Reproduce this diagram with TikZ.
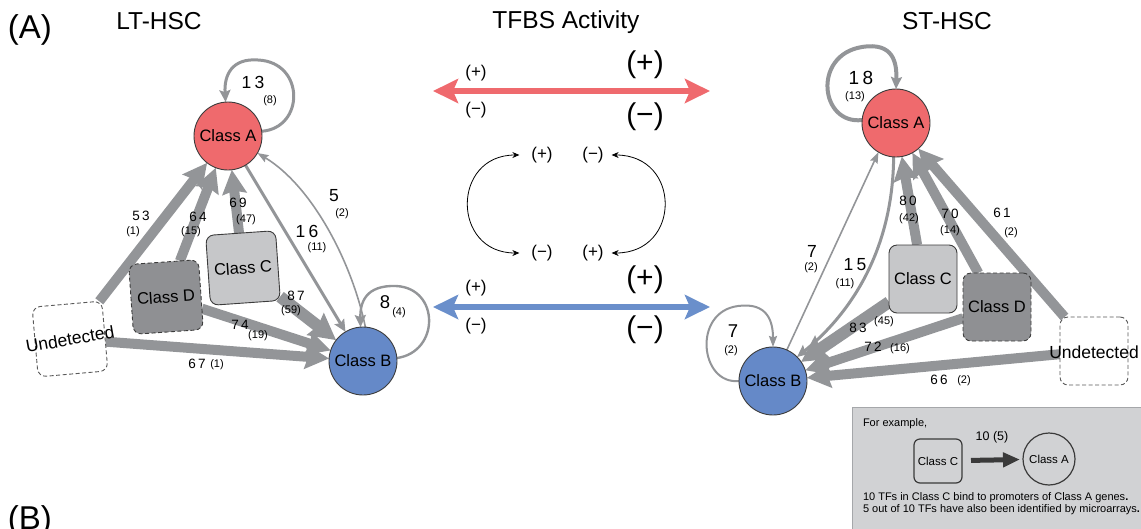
\documentclass[tikz,border=0pt]{standalone}
\usepackage{fontspec}
\setmainfont{Liberation Sans}
\usetikzlibrary{arrows.meta,backgrounds}

\definecolor{clsA}{HTML}{EF6A6D}
\definecolor{clsB}{HTML}{6589C8}
\definecolor{clsC}{HTML}{C6C7C9}
\definecolor{clsD}{HTML}{8F9093}
\definecolor{edgegray}{HTML}{939598}
\definecolor{boxline}{HTML}{3C3C3C}
\definecolor{legendfill}{HTML}{D1D2D4}
\definecolor{legendline}{HTML}{A5A7AA}
\definecolor{actred}{HTML}{EF6A6E}
\definecolor{actblue}{HTML}{6A8FCB}
\definecolor{darkarrow}{HTML}{3A3A3A}

\newcommand\setsz[1]{\fontsize{#1}{#1}\selectfont}
\newcommand\spaced[1]{{\addfontfeatures{LetterSpace=18}#1}}

\begin{document}
\begin{tikzpicture}[x=1pt, y=-1pt,
  every node/.style={inner sep=0pt, outer sep=0pt},
  circ/.style={circle, draw=boxline, line width=0.9pt, minimum size=68pt, font=\setsz{16.5}},
  sqbox/.style={rectangle, rounded corners=8pt, draw=boxline, line width=0.9pt,
    minimum width=70pt, minimum height=70pt, font=\setsz{16.5}},
  undbox/.style={rectangle, rounded corners=8pt, draw=boxline!85, line width=0.9pt,
    dash pattern=on 4pt off 2.5pt, fill=white, minimum width=70pt, minimum height=70pt},
  dashbox/.style={dash pattern=on 4pt off 2.5pt},
  undtxt/.style={font=\setsz{17.5}},
  edgeheavy/.style={draw=edgegray, line width=10pt, -{Stealth[length=24pt,width=24pt,inset=3pt]}},
  edgexl/.style={draw=edgegray, line width=12pt, -{Stealth[length=26pt,width=27pt,inset=3pt]}},
  edgemid/.style={draw=edgegray, line width=3pt, -{Stealth[length=12pt,width=11pt,inset=2pt]}},
  edgelight/.style={draw=edgegray, line width=1.6pt, -{Stealth[length=11pt,width=8pt,inset=1.5pt]}},
  num/.style={font=\setsz{13.5}},
  sub/.style={font=\setsz{11}},
  big/.style={font=\setsz{17.5}},
  title/.style={font=\setsz{24.5}, anchor=base},
  panel/.style={font=\setsz{33}, anchor=base west},
  signsm/.style={font=\setsz{17}},
  signbig/.style={font=\setsz{30}},
  actarrow/.style={line width=5.5pt, {Stealth[length=25pt,width=24pt,inset=5pt]}-{Stealth[length=25pt,width=24pt,inset=5pt]}},
  loopflip/.style={draw=black, line width=0.8pt, {Stealth[length=7pt,width=6pt]}-{Stealth[length=7pt,width=6pt]}},
  legtxt/.style={font=\setsz{11}, anchor=base west},
]
\useasboundingbox (0,0) rectangle (1141,528);

% ---------- headings ----------
\node[panel] (pA) at (8,38) {(A)};
\node[panel] (pB) at (8,529) {(B)};
\node[title] (tLT) at (159,29) {LT-HSC};
\node[title] (tTF) at (566,28) {TFBS Activity};
\node[title] (tST) at (947,29) {ST-HSC};

% ---------- LT-HSC network ----------
\node[circ, fill=clsA] (lA) at (228,136) {Class A};
\node[circ, fill=clsB] (lB) at (363,361) {Class B};
\node[sqbox, fill=clsC, rotate=4] (lC) at (243,268) {Class C};
\node[sqbox, fill=clsD, dashbox, rotate=4] (lD) at (166,297) {Class D};
\node[undbox, rotate=5] (lU) at (70,339) {};
\node[undtxt, rotate=10] (lUt) at (lU) {Undetected};

\begin{scope}[on background layer]
  \draw[edgeheavy] (lU) -- (lA);
  \draw[edgeheavy] (lD) -- (lA);
  \draw[edgeheavy] (lC) -- (lA);
  \draw[edgemid] (lA) -- (lB);
  \draw[edgelight] (lB.86) .. controls (352,262) and (312,186) .. (lA.-30);
  \draw[edgexl] (lC) -- (lB);
  \draw[edgeheavy] (lD) -- (lB);
  \draw[edgeheavy] (lU) -- (lB);
  \draw[edgemid] (lA.8) .. controls (305,128) and (305,62) .. (258,60)
                 .. controls (232,58) and (224,75) .. (lA.94);
  \draw[edgemid, line width=2.4pt] (lB.5) .. controls (440,352) and (440,288) .. (396,286)
                 .. controls (366,285) and (360,302) .. (lB.94);
\end{scope}

\node[big] (n13) at (253,82) {\spaced{13}};
\node[sub] (s13) at (270,101) {(8)};
\node[num] (n53) at (141,216) {\spaced{53}};
\node[sub] (s53) at (133,232) {(1)};
\node[num] (n64) at (198,217) {\spaced{64}};
\node[sub] (s64) at (191,232) {(15)};
\node[num] (n69) at (238,203) {\spaced{69}};
\node[sub] (s69) at (246,220) {(47)};
\node[big] (n16) at (307,231) {\spaced{16}};
\node[sub] (s16) at (317,248) {(11)};
\node[big] (n5) at (334,196) {5};
\node[sub] (s5) at (342,214) {(2)};
\node[big, font=\setsz{18.5}] (n8) at (385,302) {8};
\node[sub] (s8) at (399,313) {(4)};
\node[num] (n87) at (296,296) {\spaced{87}};
\node[sub] (s87) at (291,311) {(59)};
\node[num] (n74) at (240,325) {\spaced{74}};
\node[sub] (s74) at (258,336) {(19)};
\node[num] (n67) at (197,364) {\spaced{67}};
\node[sub] (s67) at (217,365) {(1)};

% ---------- ST-HSC network ----------
\node[circ, fill=clsA] (rA) at (896,123) {Class A};
\node[circ, fill=clsB] (rB) at (773,381) {Class B};
\node[sqbox, fill=clsC, minimum width=68pt, minimum height=68pt] (rC) at (923,279) {Class C};
\node[sqbox, fill=clsD, dashbox, minimum width=68pt, minimum height=68pt] (rD) at (997,307) {Class D};
\node[undbox, minimum width=68pt, minimum height=68pt] (rU) at (1094,351) {};
\node[undtxt] (rUt) at (1094,352) {Undetected};

\begin{scope}[on background layer]
  \draw[edgeheavy] (rC) -- (rA);
  \draw[edgeheavy] (rD) -- (rA);
  \draw[edgeheavy] (rU) -- (rA);
  \draw[edgexl] (rC) -- (rB);
  \draw[edgeheavy] (rD) -- (rB);
  \draw[edgeheavy] (rU) -- (rB);
  \draw[edgelight] (rB.66) -- (rA.239);
  \draw[edgemid] (rA.266) .. controls (893,245) and (855,310) .. (rB.45);
  \draw[edgemid, line width=4pt] (rA.175) .. controls (820,125) and (812,55) .. (862,47)
                 .. controls (893,42) and (897,62) .. (rA.90);
  \draw[edgelight, line width=2pt] (rB.180) .. controls (700,385) and (692,312) .. (738,306)
                 .. controls (768,302) and (773,322) .. (rB.90);
\end{scope}

\node[big, font=\setsz{19}] (n18) at (861,78) {\spaced{18}};
\node[sub] (s18) at (855,97) {(13)};
\node[big] (n7a) at (812,251) {7};
\node[sub] (s7a) at (811,268) {(2)};
\node[big] (n15) at (855,265) {\spaced{15}};
\node[sub] (s15) at (845,284) {(11)};
\node[num] (n80) at (908,201) {\spaced{80}};
\node[sub] (s80) at (909,219) {(42)};
\node[num] (n70) at (950,214) {\spaced{70}};
\node[sub] (s70) at (950,231) {(14)};
\node[num] (n61) at (1002,213) {\spaced{61}};
\node[sub] (s61) at (1011,233) {(2)};
\node[big, font=\setsz{18.5}] (n7b) at (733,331) {7};
\node[sub] (s7b) at (731,351) {(2)};
\node[num] (n83) at (858,328) {\spaced{83}};
\node[sub] (s83) at (884,322) {(45)};
\node[num] (n72) at (873,347) {\spaced{72}};
\node[sub] (s72) at (900,349) {(16)};
\node[num] (n66) at (939,380) {\spaced{66}};
\node[sub] (s66) at (964,381) {(2)};

% ---------- TFBS activity key ----------
\coordinate (redL) at (433,91);
\coordinate (redR) at (710,91);
\draw[actarrow, draw=actred] (redL) -- (redR);
\node[signsm] (rps) at (476,73) {(+)};
\node[signsm] (rms) at (476,110) {(−)};
\node[signbig] (rpb) at (645,65) {(+)};
\node[signbig] (rmb) at (645,117) {(−)};

\node[signsm] (cpL) at (542,155) {(+)};
\node[signsm] (cmR) at (593,155) {(−)};
\node[signsm] (cmL) at (542,253) {(−)};
\node[signsm] (cpR) at (593,253) {(+)};
\draw[loopflip, shorten <=12pt, shorten >=12pt] (cpL.west) .. controls +(-80,0) and +(-80,0) .. (cmL.west);
\draw[loopflip, shorten <=8pt, shorten >=8pt] (cmR.east) .. controls +(78,0) and +(78,0) .. (cpR.east);

\coordinate (blueL) at (433,307);
\coordinate (blueR) at (710,307);
\draw[actarrow, draw=actblue] (blueL) -- (blueR);
\node[signsm] (bps) at (476,288) {(+)};
\node[signsm] (bms) at (476,326) {(−)};
\node[signbig] (bpb) at (645,280) {(+)};
\node[signbig] (bmb) at (645,330) {(−)};

% ---------- example box ----------
\node[rectangle, draw=legendline, fill=legendfill, line width=1pt, anchor=north west,
      minimum width=300pt, minimum height=130pt] (leg) at (852,407) {};
\node[legtxt] (legHead) at (863,426) {For example,};
\node[rectangle, rounded corners=6pt, draw=darkarrow, line width=1.2pt,
      minimum width=48pt, minimum height=44pt, font=\setsz{11.5}] (legC) at (938,461) {Class C};
\node[circle, draw=darkarrow, line width=1.2pt, minimum size=52pt, font=\setsz{11.5}] (legA) at (1049,459) {Class A};
\draw[draw=darkarrow, line width=5pt, -{Triangle[length=17pt,width=14pt]},
      shorten <=9pt, shorten >=3pt] (legC) -- (legA);
\node[font=\setsz{12.5}] (legNum) at (992,437) {10 (5)};
\node[legtxt] (legL1) at (863,500) {10 TFs in Class C bind to promoters of Class A genes{\bfseries .}};
\node[legtxt] (legL2) at (863,512) {5 out of 10 TFs have also been identified by microarrays{\bfseries .}};
\end{tikzpicture}
\end{document}
